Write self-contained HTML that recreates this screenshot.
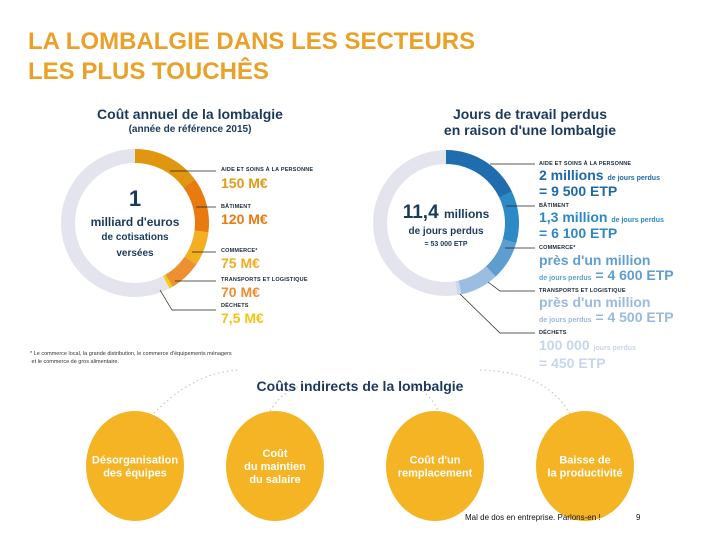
<!DOCTYPE html>
<html><head><meta charset="utf-8"><style>
body{margin:0;background:#fff}
#wrap{position:relative;width:720px;height:540px;overflow:hidden;font-family:"Liberation Sans",sans-serif}
.t{position:absolute;white-space:nowrap;font-weight:bold}
.cap{font-size:5.5px;color:#1a2a3a;letter-spacing:0.2px}
.navy{color:#1a3a5c}
</style></head><body>
<div id="wrap">
<div class="t" style="left:28px;top:27px;font-size:24px;line-height:30px;color:#e9a128">LA LOMBALGIE DANS LES SECTEURS<br>LES PLUS TOUCHÊS</div>

<div class="t navy" style="left:90px;top:106px;font-size:14px;width:200px;text-align:center">Coût annuel de la lombalgie</div>
<div class="t navy" style="left:90px;top:124px;font-size:10px;width:200px;text-align:center">(année de référence 2015)</div>

<div class="t navy" style="left:420px;top:106px;font-size:14px;width:220px;text-align:center;line-height:16px">Jours de travail perdus<br>en raison d'une lombalgie</div>

<svg id="chart" width="720" height="540" style="position:absolute;left:0;top:0"></svg>

<div class="t navy" style="left:85px;top:186px;width:100px;text-align:center;font-size:22px">1</div>
<div class="t navy" style="left:75px;top:215px;width:120px;text-align:center;font-size:12px;line-height:14px">milliard d'euros<br><span style="font-size:10px">de cotisations<br>versées</span></div>

<div class="t navy" style="left:390px;top:202px;width:112px;text-align:center;font-size:19px">11,4 <span style="font-size:12px">millions</span></div>
<div class="t navy" style="left:390px;top:226px;width:112px;text-align:center;font-size:10px;line-height:12px">de jours perdus<br><span style="font-size:7px">= 53 000 ETP</span></div>

<!-- left labels -->
<div class="t cap" style="left:221px;top:167px">AIDE ET SOINS À LA PERSONNE</div>
<div class="t" style="left:221px;top:175px;font-size:14px;color:#e09a18">150 M€</div>
<div class="t cap" style="left:221px;top:204px">BÂTIMENT</div>
<div class="t" style="left:221px;top:211px;font-size:14px;color:#e87a10">120 M€</div>
<div class="t cap" style="left:221px;top:248px">COMMERCE*</div>
<div class="t" style="left:221px;top:255px;font-size:14px;color:#f2ac22">75 M€</div>
<div class="t cap" style="left:221px;top:277px">TRANSPORTS ET LOGISTIQUE</div>
<div class="t" style="left:221px;top:284px;font-size:14px;color:#ec8e34">70 M€</div>
<div class="t cap" style="left:221px;top:303px">DÉCHETS</div>
<div class="t" style="left:221px;top:310px;font-size:14px;color:#f2c416">7,5 M€</div>

<!-- right labels -->
<div class="t cap" style="left:539px;top:161px">AIDE ET SOINS À LA PERSONNE</div>
<div class="t" style="left:539px;top:169px;font-size:14px;color:#1e6aa8;line-height:13px">2 millions <span style="font-size:7px">de jours perdus</span><br>= 9 500 ETP</div>
<div class="t cap" style="left:539px;top:203px">BÂTIMENT</div>
<div class="t" style="left:539px;top:211px;font-size:14px;color:#2d87c4;line-height:13px">1,3 million <span style="font-size:7px">de jours perdus</span><br>= 6 100 ETP</div>
<div class="t cap" style="left:539px;top:245px">COMMERCE*</div>
<div class="t" style="left:539px;top:253px;font-size:14px;color:#5f9fd0;line-height:15px">près d'un million<br><span style="font-size:7px">de jours perdus</span> = 4 600 ETP</div>
<div class="t cap" style="left:539px;top:288px">TRANSPORTS ET LOGISTIQUE</div>
<div class="t" style="left:539px;top:295px;font-size:14px;color:#9ab9de;line-height:15px">près d'un million<br><span style="font-size:7px">de jours perdus</span> = 4 500 ETP</div>
<div class="t cap" style="left:539px;top:330px">DÉCHETS</div>
<div class="t" style="left:539px;top:338px;font-size:14px;color:#c6d6ec;line-height:14px">100 000 <span style="font-size:7px">jours perdus</span><br>= 450 ETP</div>

<div class="t" style="left:30px;top:350px;font-size:5.5px;font-weight:normal;color:#333;line-height:8px">* Le commerce local, la grande distribution, le commerce d'équipements ménagers<br>&nbsp;et le commerce de gros alimentaire.</div>

<div class="t navy" style="left:210px;top:378px;width:300px;text-align:center;font-size:14px">Coûts indirects de la lombalgie</div>

<div class="t" style="left:465px;top:513px;font-size:8px;font-weight:normal;color:#111">Mal de dos en entreprise. Parlons-en !</div>
<div class="t" style="left:636px;top:513px;font-size:8px;font-weight:normal;color:#111">9</div>
</div>
<script>
const leftCategories=["Aide et soins à la personne","Bâtiment","Commerce","Transports et logistique","Déchets"];
const leftValues=[150,120,75,70,7.5];
const leftTotal=1000;
const leftColors=["#e0960f","#e97a10","#f4ae22","#ee8f32","#f5cd12"];
const rightCategories=["Aide et soins à la personne","Bâtiment","Commerce","Transports et logistique","Déchets"];
const rightValues=[9500,6100,4600,4500,450];
const rightTotal=53000;
const rightColors=["#1f6dae","#2e8ac6","#5c9ed0","#9bbde0","#c9d8ec"];
const indirectLabels=["Désorganisation|des équipes","Coût|du maintien|du salaire","Coût d'un|remplacement","Baisse de|la productivité"];

const NS="http://www.w3.org/2000/svg";
const svg=document.getElementById('chart');
function mk(tag,attrs){const e=document.createElementNS(NS,tag);for(const k in attrs)e.setAttribute(k,attrs[k]);svg.appendChild(e);return e;}
function pt(cx,cy,r,deg){const a=(deg-90)*Math.PI/180;return [cx+r*Math.cos(a),cy+r*Math.sin(a)];}
function arcPath(cx,cy,r0,r1,a0,a1){
  const l=(a1-a0)>180?1:0;
  const p1=pt(cx,cy,r1,a0),p2=pt(cx,cy,r1,a1),p3=pt(cx,cy,r0,a1),p4=pt(cx,cy,r0,a0);
  return `M${p1[0]},${p1[1]}A${r1},${r1} 0 ${l} 1 ${p2[0]},${p2[1]}L${p3[0]},${p3[1]}A${r0},${r0} 0 ${l} 0 ${p4[0]},${p4[1]}Z`;
}
function donut(cx,cy,r0,r1,vals,total,cols,prefix){
  const bg=mk('circle',{cx:cx,cy:cy,r:(r0+r1)/2,fill:'none',stroke:'#e3e4ee','stroke-width':r1-r0});
  
  
  let a=0;
  vals.forEach((v,i)=>{
    const span=v/total*360;
    const p=mk('path',{d:arcPath(cx,cy,r0,r1,a,a+span),fill:cols[i]});
    
    
    a+=span;
  });
}
donut(135,223,60,74,leftValues,leftTotal,leftColors,'cost');
donut(446,223,59,73,rightValues,rightTotal,rightColors,'days');

const leaders=[
 "M170,171H216","M196,207H216","M192,252H216","M175,281H216","M160,290L172,310H216",
 "M490,164H535","M506,206H535","M505,248H535","M488,282L500,291H535","M460,294L500,333H535"
];
leaders.forEach((d,i)=>{const l=mk('path',{d:d,stroke:'#222','stroke-width':0.7,fill:'none'});
 
 });

["M148,420Q190,372 240,370","M268,415Q280,392 300,386","M410,386Q430,390 440,415","M480,370Q550,372 572,418"].forEach(d=>{
 const l=mk('path',{d:d,stroke:'#c8c8cc','stroke-width':1.2,fill:'none','stroke-dasharray':'1.5 3'});
 
 
});

const circX=[135,275,435,585];
indirectLabels.forEach((lab,i)=>{
  const e=mk('ellipse',{cx:circX[i],cy:466,rx:49,ry:55,fill:'#f4b424'});
  
  
  const lines=lab.split('|');
  const t=mk('text',{x:circX[i],'text-anchor':'middle','font-family':'Liberation Sans, sans-serif','font-weight':'bold','font-size':11,fill:'#fff'});
  
  
  lines.forEach((s,j)=>{const ts=document.createElementNS(NS,'tspan');ts.setAttribute('x',circX[i]);ts.setAttribute('y',466+4+(j-(lines.length-1)/2)*13);ts.textContent=s;t.appendChild(ts);});
});
</script>
</body></html>
